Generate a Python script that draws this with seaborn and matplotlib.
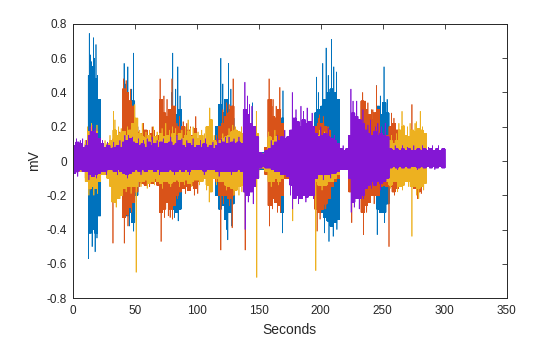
import numpy as np
import pandas as pd
import matplotlib
matplotlib.use("Agg")
import matplotlib.pyplot as plt
import seaborn as sns

# Four EMG channels (mV). Each channel is given by its activity envelope,
# read every ENV_STEP seconds (upper and lower swing), plus isolated spikes.
DT = 0.05
ENV_STEP = 2.5

BLUE_END = 285.0
BLUE_UP = [
    .05, .05, .05, .05, .05, .50, .55, .48, .36, .05,   # 0-25 s
    .05, .05, .05, .05, .05, .05, .33, .36, .30, .35,   # 25-50
    .20, .05, .05, .05, .05, .05, .05, .05, .05, .05,   # 50-75
    .05, .26, .30, .27, .30, .10, .05, .05, .05, .05,   # 75-100
    .05, .05, .05, .05, .05, .05, .20, .33, .28, .36,   # 100-125
    .30, .25, .05, .05, .05, .05, .05, .05, .05, .05,   # 125-150
    .05, .05, .05, .05, .05, .05, .05, .25, .10, .05,   # 150-175
    .05, .05, .05, .05, .05, .05, .05, .05, .28, .30,   # 175-200
    .32, .36, .40, .42, .40, .36, .05, .05, .05, .05,   # 200-225
    .05, .05, .05, .05, .05, .05, .05, .20, .32, .27,   # 225-250
    .34, .28, .10, .05, .05, .05, .05, .05, .05, .05,   # 250-275
    .05, .05, .05, .05, .05, .05, .05, .05, .05, .05,   # 275-300
]
BLUE_DN = [
    -.05, -.05, -.05, -.05, -.05, -.42, -.40, -.42, -.32, -.05,
    -.05, -.05, -.05, -.05, -.05, -.05, -.28, -.32, -.30, -.36,
    -.20, -.05, -.05, -.05, -.05, -.05, -.05, -.05, -.05, -.05,
    -.05, -.24, -.28, -.30, -.28, -.10, -.05, -.05, -.05, -.05,
    -.05, -.05, -.05, -.05, -.05, -.05, -.20, -.28, -.26, -.34,
    -.30, -.25, -.05, -.05, -.05, -.05, -.05, -.05, -.05, -.05,
    -.05, -.05, -.05, -.05, -.05, -.05, -.05, -.30, -.10, -.05,
    -.05, -.05, -.05, -.05, -.05, -.05, -.05, -.05, -.25, -.30,
    -.30, -.33, -.35, -.38, -.36, -.34, -.05, -.05, -.05, -.05,
    -.05, -.05, -.05, -.05, -.05, -.05, -.05, -.20, -.28, -.30,
    -.30, -.25, -.10, -.05, -.05, -.05, -.05, -.05, -.05, -.05,
    -.05, -.05, -.05, -.05, -.05, -.05, -.05, -.05, -.05, -.05,
]
BLUE_SPK_T = [12.6, 13.3, 14.0, 15.0, 15.6, 16.6, 17.3, 18.0, 18.7, 19.5, 20.0,
              41.4, 42.5, 44.4, 45.5, 47.5, 48.9, 49.1,
              79.5, 80.6, 82.0, 83.0, 84.7, 85.0, 86.5,
              119.4, 121.0, 124.0, 125.0, 125.5, 127.5, 128.3, 145.0, 169.5, 169.2,
              196.5, 198.0, 201.6, 203.0, 204.3, 206.0, 206.6, 208.6, 210.0, 210.5,
              212.6, 213.0, 245.0, 245.5, 248.0, 251.0, 251.5, 253.5]
BLUE_SPK_V = [-0.57, 0.745, 0.62, 0.58, -0.50, 0.72, 0.60, -0.53, 0.68, -0.45, 0.50,
              0.57, 0.45, 0.55, -0.38, 0.42, 0.63, -0.41,
              0.40, 0.63, -0.33, 0.42, 0.55, -0.35, 0.38,
              0.60, 0.45, -0.40, -0.46, 0.57, 0.42, -0.38, 0.34, 0.41, -0.42,
              0.49, 0.40, 0.57, -0.42, 0.66, 0.50, -0.47, 0.71, -0.44, 0.55,
              0.52, -0.40, 0.44, -0.43, 0.38, 0.55, -0.36, 0.36]

ORANGE_END = 285.0
ORANGE_UP = [
    .05, .05, .06, .06, .10, .14, .15, .13, .12, .07,
    .07, .08, .10, .13, .12, .14, .42, .40, .35, .32,
    .20, .14, .16, .18, .13, .16, .14, .15, .36, .28,
    .26, .30, .32, .20, .18, .20, .16, .18, .15, .19,
    .11, .10, .09, .10, .10, .09, .12, .20, .22, .26,
    .28, .32, .12, .10, .09, .12, .10, .10, .09, .06,
    .04, .04, .08, .36, .26, .25, .30, .22, .10, .10,
    .10, .12, .10, .10, .12, .10, .10, .10, .20, .22,
    .22, .20, .18, .12, .10, .08, .05, .05, .05, .12,
    .12, .12, .15, .35, .30, .27, .24, .28, .30, .15,
    .14, .15, .20, .22, .18, .12, .12, .10, .12, .14,
    .14, .16, .12, .05, .05, .05, .05, .05, .05, .05,
]
ORANGE_DN = [
    -.05, -.05, -.06, -.06, -.10, -.14, -.15, -.13, -.12, -.07,
    -.07, -.08, -.10, -.15, -.14, -.14, -.33, -.31, -.27, -.24,
    -.18, -.12, -.13, -.14, -.12, -.13, -.12, -.14, -.30, -.28,
    -.24, -.28, -.26, -.20, -.18, -.16, -.15, -.17, -.14, -.16,
    -.12, -.10, -.10, -.09, -.10, -.10, -.12, -.20, -.20, -.20,
    -.22, -.20, -.12, -.10, -.09, -.14, -.12, -.10, -.09, -.06,
    -.04, -.04, -.08, -.26, -.22, -.24, -.26, -.20, -.10, -.10,
    -.10, -.12, -.12, -.10, -.12, -.10, -.10, -.10, -.28, -.30,
    -.28, -.25, -.22, -.15, -.12, -.10, -.05, -.05, -.05, -.18,
    -.18, -.16, -.18, -.30, -.26, -.24, -.20, -.20, -.20, -.15,
    -.14, -.15, -.15, -.18, -.16, -.12, -.12, -.10, -.12, -.14,
    -.16, -.18, -.12, -.05, -.05, -.05, -.05, -.05, -.05, -.05,
]
ORANGE_SPK_T = [32.4, 40.8, 41.5, 43.0, 44.5, 46.5, 57.0, 64.0, 70.4, 71.2, 73.5, 76.0,
                77.0, 80.0, 80.5, 86.0, 92.0, 99.2, 100.8, 119.4, 124.0, 128.5, 129.3,
                139.0, 158.3, 158.6, 161.5, 164.0, 167.0, 167.5, 197.0, 199.0, 225.0,
                233.8, 234.5, 238.0, 242.0, 245.0, 255.0, 257.0, 273.5, 278.0,
                13.0, 18.0, 34.0, 38.0, 53.0, 60.0, 66.0, 84.0, 89.0, 95.0, 104.0,
                110.0, 116.0, 121.0, 126.0, 133.0, 143.0, 160.5, 198.0, 202.0, 206.0,
                230.0, 236.0, 241.0, 252.0, 259.0, 268.0, 280.0,
                14.0, 36.0, 47.5, 54.0, 62.0, 74.0, 78.5, 84.4, 91.0, 98.0, 121.4,
                126.4, 161.0, 165.0, 199.4, 204.0, 228.0, 237.0, 243.0, 259.4, 266.0,
                281.0]
ORANGE_SPK_V = [-0.48, 0.48, -0.48, 0.47, -0.38, 0.42, 0.22, 0.20, 0.48, -0.47, 0.38, 0.36,
                -0.32, 0.48, -0.34, 0.26, 0.22, 0.26, -0.19, -0.52, 0.34, -0.39, 0.48,
                -0.52, 0.48, -0.38, 0.36, 0.32, 0.43, -0.30, -0.41, 0.27, -0.36,
                0.40, -0.43, 0.34, 0.30, 0.44, -0.50, 0.28, 0.33, -0.22,
                0.17, 0.18, 0.15, 0.17, 0.17, 0.16, 0.18, 0.22, 0.23, 0.20, 0.12,
                0.13, 0.15, 0.30, 0.33, 0.13, 0.13, 0.32, 0.25, 0.26, 0.20,
                0.17, 0.35, 0.30, 0.18, 0.25, 0.15, 0.18,
                -0.17, -0.17, -0.30, -0.15, -0.15, -0.33, -0.33, -0.22, -0.19, -0.20, -0.25,
                -0.26, -0.28, -0.30, -0.34, -0.28, -0.22, -0.30, -0.25, -0.20, -0.14,
                -0.19]

YELLOW_END = 285.0
YELLOW_UP = [
    .05, .05, .06, .06, .12, .17, .16, .17, .12, .08,
    .08, .10, .12, .18, .15, .16, .17, .15, .18, .22,
    .25, .16, .14, .13, .15, .12, .14, .12, .16, .14,
    .15, .13, .16, .14, .16, .13, .15, .17, .14, .16,
    .13, .15, .12, .20, .24, .12, .11, .12, .13, .14,
    .15, .17, .18, .17, .16, .10, .10, .12, .18, .16,
    .04, .04, .06, .14, .12, .14, .12, .10, .08, .08,
    .08, .08, .08, .08, .08, .08, .08, .08, .12, .15,
    .15, .14, .14, .12, .10, .08, .05, .05, .05, .08,
    .10, .10, .10, .12, .14, .13, .12, .14, .13, .12,
    .12, .12, .12, .10, .12, .18, .20, .15, .14, .18,
    .17, .19, .18, .16, .05, .05, .05, .05, .05, .05,
]
YELLOW_DN = [
    -.05, -.05, -.06, -.06, -.12, -.16, -.15, -.16, -.12, -.08,
    -.08, -.10, -.15, -.24, -.22, -.20, -.16, -.15, -.15, -.15,
    -.15, -.12, -.12, -.11, -.13, -.12, -.10, -.12, -.13, -.12,
    -.12, -.13, -.12, -.11, -.12, -.12, -.11, -.13, -.12, -.11,
    -.11, -.12, -.10, -.14, -.18, -.10, -.10, -.12, -.12, -.14,
    -.15, -.16, -.17, -.15, -.14, -.10, -.10, -.10, -.10, -.10,
    -.04, -.04, -.06, -.12, -.12, -.10, -.12, -.10, -.08, -.08,
    -.08, -.08, -.08, -.08, -.08, -.08, -.08, -.08, -.12, -.14,
    -.14, -.14, -.12, -.12, -.10, -.08, -.05, -.05, -.05, -.08,
    -.10, -.10, -.10, -.12, -.12, -.12, -.12, -.12, -.12, -.12,
    -.12, -.12, -.14, -.12, -.12, -.15, -.14, -.12, -.12, -.15,
    -.15, -.16, -.15, -.13, -.05, -.05, -.05, -.05, -.05, -.05,
]
YELLOW_SPK_T = [15.0, 17.0, 32.8, 34.0, 35.0, 37.0, 50.0, 51.1, 56.0, 65.0, 75.0, 80.5,
                93.0, 97.0, 104.0, 110.0, 110.5, 131.0, 134.0, 148.0, 148.4, 177.4,
                196.0, 265.5, 270.0, 273.5, 276.0, 279.0, 280.2,
                12.0, 19.5, 26.0, 30.0, 39.0, 44.0, 54.0, 59.0, 62.0, 68.0, 72.0,
                78.0, 83.0, 88.0, 91.0, 95.0, 101.0, 106.0, 114.0, 121.0, 126.0,
                129.0, 136.0, 158.0, 163.0, 199.0, 203.0, 257.0, 261.0, 263.0,
                267.0, 272.0, 277.0, 282.0,
                13.0, 20.0, 31.5, 38.0, 43.0, 47.0, 55.0, 60.0, 66.0, 72.4, 79.0,
                86.0, 90.0, 96.0, 102.0, 108.0, 116.0, 124.0, 130.0, 136.4, 160.0,
                166.0, 201.0, 256.0, 262.0, 266.0, 271.0, 277.4, 283.0]
YELLOW_SPK_V = [0.22, -0.20, 0.29, 0.24, -0.27, 0.20, 0.33, -0.65, 0.22, 0.20, 0.22, 0.20,
                0.24, 0.20, 0.18, -0.24, 0.31, 0.20, -0.20, 0.29, -0.68, -0.35,
                -0.64, 0.29, 0.20, -0.44, 0.22, -0.22, 0.29,
                0.20, 0.21, 0.12, 0.15, 0.19, 0.20, 0.18, 0.17, 0.18, 0.17, 0.19,
                0.18, 0.19, 0.18, 0.20, 0.19, 0.17, 0.16, 0.15, 0.16, 0.19,
                0.21, 0.20, 0.17, 0.18, 0.18, 0.17, 0.15, 0.16, 0.22,
                0.21, 0.22, 0.23, 0.20,
                -0.20, -0.19, -0.24, -0.22, -0.18, -0.19, -0.15, -0.16, -0.14, -0.16, -0.15,
                -0.15, -0.14, -0.15, -0.14, -0.17, -0.14, -0.17, -0.20, -0.18, -0.15,
                -0.14, -0.17, -0.16, -0.18, -0.17, -0.15, -0.20, -0.17]

PURPLE_END = 300.2
PURPLE_UP = [
    .09, .11, .10, .08, .09, .15, .17, .16, .13, .10,
    .08, .09, .07, .08, .09, .08, .11, .12, .13, .11,
    .10, .09, .10, .08, .11, .09, .10, .08, .11, .10,
    .10, .11, .09, .10, .12, .09, .08, .10, .09, .08,
    .09, .08, .10, .08, .09, .07, .09, .10, .11, .10,
    .10, .11, .10, .11, .10, .30, .27, .22, .20, .14,
    .05, .04, .06, .07, .09, .11, .12, .14, .13, .14,
    .18, .25, .23, .20, .24, .22, .23, .20, .16, .14,
    .15, .16, .14, .13, .12, .10, .07, .06, .07, .15,
    .28, .26, .24, .22, .18, .16, .15, .17, .15, .16,
    .15, .14, .07, .06, .07, .06, .07, .06, .07, .06,
    .06, .07, .06, .07, .06, .07, .06, .07, .06, .07,
]
PURPLE_DN = [
    -.07, -.06, -.05, -.06, -.06, -.08, -.09, -.08, -.07, -.06,
    -.06, -.05, -.05, -.06, -.05, -.06, -.07, -.08, -.07, -.06,
    -.05, -.06, -.05, -.06, -.05, -.05, -.06, -.05, -.06, -.06,
    -.06, -.05, -.06, -.06, -.05, -.06, -.05, -.06, -.05, -.05,
    -.05, -.05, -.06, -.05, -.05, -.05, -.06, -.06, -.06, -.06,
    -.06, -.06, -.06, -.05, -.06, -.18, -.20, -.18, -.15, -.10,
    -.04, -.03, -.04, -.04, -.05, -.06, -.06, -.08, -.08, -.09,
    -.14, -.22, -.20, -.22, -.20, -.21, -.20, -.20, -.10, -.08,
    -.08, -.08, -.08, -.07, -.07, -.06, -.05, -.05, -.05, -.10,
    -.24, -.22, -.22, -.20, -.16, -.14, -.12, -.14, -.12, -.13,
    -.12, -.10, -.04, -.03, -.04, -.03, -.04, -.03, -.04, -.03,
    -.03, -.04, -.03, -.04, -.03, -.04, -.03, -.04, -.03, -.04,
]
PURPLE_SPK_T = [8.0, 14.0, 18.0, 45.0, 60.0, 88.0, 120.0, 126.0, 138.8, 139.0, 141.0,
                142.5, 144.5, 145.5, 177.0, 177.2, 180.0, 184.0, 186.0, 189.0, 193.0,
                224.3, 224.5, 226.0, 229.0, 231.0, 234.0, 240.0, 246.0, 252.0, 270.0,
                290.0,
                3.0, 6.0, 11.0, 16.0, 20.0, 24.0, 28.0, 33.0, 38.0, 42.0, 48.0, 53.0,
                57.0, 64.0, 68.0, 73.0, 79.0, 84.0, 92.0, 97.0, 103.0, 107.0, 113.0,
                117.0, 123.0, 130.0, 134.0, 160.0, 165.0, 171.0, 200.0, 206.0, 211.0,
                218.0, 238.0, 244.0, 249.0, 260.0, 266.0, 275.0, 282.0, 287.0, 295.0,
                4.0, 13.0, 19.0, 27.0, 36.0, 44.0, 55.0, 70.0, 82.0, 94.0, 106.0,
                118.0, 128.0, 141.5, 175.5, 182.0, 188.0, 194.0, 202.0, 208.0, 227.0,
                234.4, 241.0, 248.0, 262.0, 278.0, 292.0]
PURPLE_SPK_V = [0.13, 0.20, 0.19, 0.15, 0.13, 0.13, 0.13, 0.14, 0.46, -0.40, 0.38,
                0.33, 0.32, -0.25, 0.40, -0.28, 0.30, 0.32, 0.29, 0.31, 0.28,
                0.42, -0.30, 0.35, 0.35, -0.28, 0.30, 0.24, 0.22, 0.22, 0.08,
                0.09,
                0.13, 0.12, 0.12, 0.21, 0.16, 0.12, 0.11, 0.11, 0.12, 0.15, 0.14, 0.13,
                0.12, 0.14, 0.12, 0.13, 0.14, 0.15, 0.12, 0.13, 0.12, 0.13, 0.11,
                0.13, 0.14, 0.13, 0.14, 0.12, 0.15, 0.18, 0.20, 0.19, 0.15,
                0.09, 0.21, 0.20, 0.20, 0.09, 0.09, 0.09, 0.09, 0.08, 0.09,
                -0.09, -0.11, -0.10, -0.08, -0.08, -0.10, -0.08, -0.08, -0.08, -0.08, -0.08,
                -0.09, -0.08, -0.24, -0.20, -0.25, -0.24, -0.22, -0.11, -0.10, -0.27,
                -0.22, -0.16, -0.17, -0.05, -0.05, -0.05]

CHANNELS = ["ch1", "ch2", "ch3", "ch4"]
COLORS = ["#0072BD", "#D95319", "#EDB120", "#8417D4"]

X_TICKS = [0, 50, 100, 150, 200, 250, 300, 350]
Y_TICKS = [-0.8, -0.6, -0.4, -0.2, 0, 0.2, 0.4, 0.6, 0.8]


def build_trace(t_end, ups, dns, spk_t, spk_v):
    t = np.arange(0.0, t_end, DT)
    cell = np.minimum((t // ENV_STEP).astype(int), len(ups) - 1)
    up = np.asarray(ups)[cell]
    dn = np.asarray(dns)[cell]
    y = np.where(np.arange(t.size) % 2 == 0, up, dn)
    idx = np.clip(np.round(np.asarray(spk_t) / DT).astype(int), 0, t.size - 1)
    y[idx] = spk_v
    return t, y


specs = [
    (BLUE_END, BLUE_UP, BLUE_DN, BLUE_SPK_T, BLUE_SPK_V),
    (ORANGE_END, ORANGE_UP, ORANGE_DN, ORANGE_SPK_T, ORANGE_SPK_V),
    (YELLOW_END, YELLOW_UP, YELLOW_DN, YELLOW_SPK_T, YELLOW_SPK_V),
    (PURPLE_END, PURPLE_UP, PURPLE_DN, PURPLE_SPK_T, PURPLE_SPK_V),
]
frames = []
for name, spec in zip(CHANNELS, specs):
    t, y = build_trace(*spec)
    frames.append(pd.DataFrame({"Seconds": t, "mV": y, "channel": name}))
df = pd.concat(frames, ignore_index=True)

sns.set_style("white")
plt.rcParams["font.family"] = ["Liberation Sans", "DejaVu Sans"]
plt.rcParams["axes.unicode_minus"] = False

INK = "#262626"
fig = plt.figure(figsize=(5.6, 3.37), dpi=100)
ax = fig.add_axes([0.13, 0.1157, 0.775, 0.8131])

sns.lineplot(data=df, x="Seconds", y="mV", hue="channel", hue_order=CHANNELS,
             palette=COLORS, estimator=None, sort=False, legend=False,
             linewidth=0.5, ax=ax)

ax.set_xlim(0, 350)
ax.set_ylim(-0.8, 0.8)
ax.set_xticks(X_TICKS)
ax.set_yticks(Y_TICKS)
ax.set_xticklabels([f"{v:g}" for v in X_TICKS])
ax.set_yticklabels([f"{v:g}" for v in Y_TICKS])
ax.tick_params(direction="in", length=3.5, width=0.6, colors=INK, labelsize=8.5,
               top=True, right=True, labeltop=False, labelright=False)
ax.tick_params(axis="x", pad=5)
ax.tick_params(axis="y", pad=4)
for sp in ax.spines.values():
    sp.set_visible(True)
    sp.set_color(INK)
    sp.set_linewidth(0.7)
ax.set_xlabel("Seconds", fontsize=10, color=INK, labelpad=4)
ax.set_ylabel("mV", fontsize=10, color=INK, labelpad=4)

fig.savefig("out.png", dpi=100, facecolor="white")
